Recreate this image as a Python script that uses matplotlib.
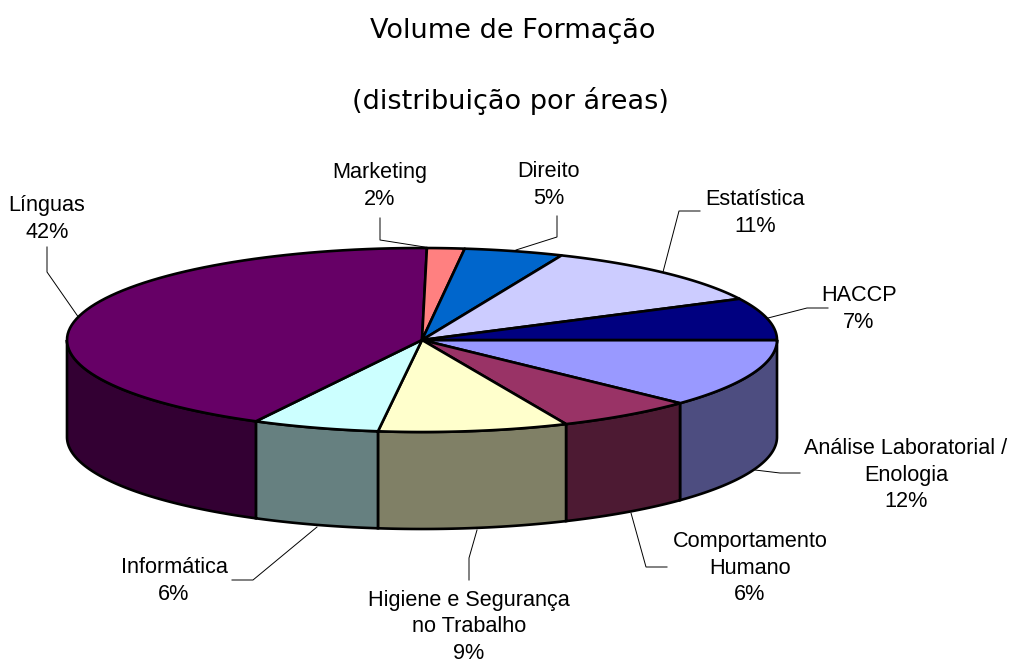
import matplotlib
matplotlib.use('Agg')
import matplotlib.pyplot as plt
import numpy as np
from matplotlib.patches import Polygon

plt.rcParams['font.family'] = ['Liberation Sans', 'DejaVu Sans']

# dados, sentido horario a partir das 3 horas
labels = ['Análise Laboratorial /\nEnologia', 'Comportamento\nHumano',
          'Higiene e Segurança\nno Trabalho', 'Informática', 'Línguas',
          'Marketing', 'Direito', 'Estatística', 'HACCP']
values = [12.05, 6.3, 8.63, 5.77, 42.47, 1.7, 4.51, 11.19, 7.38]
top_colors = ['#9999FF', '#993366', '#FFFFCC', '#CCFFFF', '#660066',
              '#FF8080', '#0066CC', '#CCCCFF', '#000080']
side_colors = ['#4D4D80', '#4D1A33', '#808066', '#668080', '#330033',
               '#804040', '#003366', '#666680', '#000040']
label_pos = [(906, 475), (750, 568), (469, 627), (174, 581), (47, 219),
             (380, 186), (549, 185), (755, 213), (859, 309)]
leaders = [[(755, 470), (780, 473), (800, 473)],
           [(631, 513), (646, 567), (667, 567)],
           [(477, 530), (469, 558), (469, 580)],
           [(317, 527), (253, 580), (232, 580)],
           [(79, 318), (47, 272), (47, 247)],
           [(431, 248), (380, 240), (380, 218)],
           [(516, 250), (557, 237), (557, 216)],
           [(663, 272), (679, 211), (700, 211)],
           [(768, 318), (807, 308), (828, 308)]]

cx, cy, rx, ry, depth = 422, 340, 355, 92, 97


def rim(a0, a1, dy=0):
    t = np.radians(np.linspace(a0, a1, 80))
    return np.column_stack([cx + rx * np.cos(t), cy + ry * np.sin(t) + dy])


fig = plt.figure(figsize=(10.12, 6.62), dpi=100)
ax = fig.add_axes([0, 0, 1, 1])
ax.set_xlim(0, 1012)
ax.set_ylim(662, 0)
ax.axis('off')

edges = np.cumsum([0] + values) * 3.6

# lateral (so a metade da frente fica visivel)
for i in range(len(values)):
    a0, a1 = edges[i], min(edges[i + 1], 180)
    if a0 >= 180:
        continue
    pts = np.vstack([rim(a0, a1), rim(a0, a1, depth)[::-1]])
    ax.add_patch(Polygon(pts, closed=True, facecolor=side_colors[i],
                         edgecolor='black', linewidth=1.9, zorder=2))

# topo
for i in range(len(values)):
    pts = np.vstack([[(cx, cy)], rim(edges[i], edges[i + 1])])
    ax.add_patch(Polygon(pts, closed=True, facecolor=top_colors[i],
                         edgecolor='black', linewidth=1.9, joinstyle='round', zorder=3))

# linhas de chamada e rotulos
for i in range(len(values)):
    xs, ys = zip(*leaders[i])
    ax.plot(xs, ys, color='black', linewidth=0.7, zorder=1)
    ax.text(label_pos[i][0], label_pos[i][1], f'{labels[i]}\n{values[i]:.0f}%',
            ha='center', va='center', fontsize=15.6, linespacing=1.33, color='black')

ax.text(513, 31, 'Volume de Formação', ha='center', va='center',
        fontsize=19.5, family=['DejaVu Sans'])
ax.text(510, 101, '(distribuição por áreas)', ha='center', va='center',
        fontsize=19.5, family=['DejaVu Sans'])

fig.savefig('out.png', dpi=100)
